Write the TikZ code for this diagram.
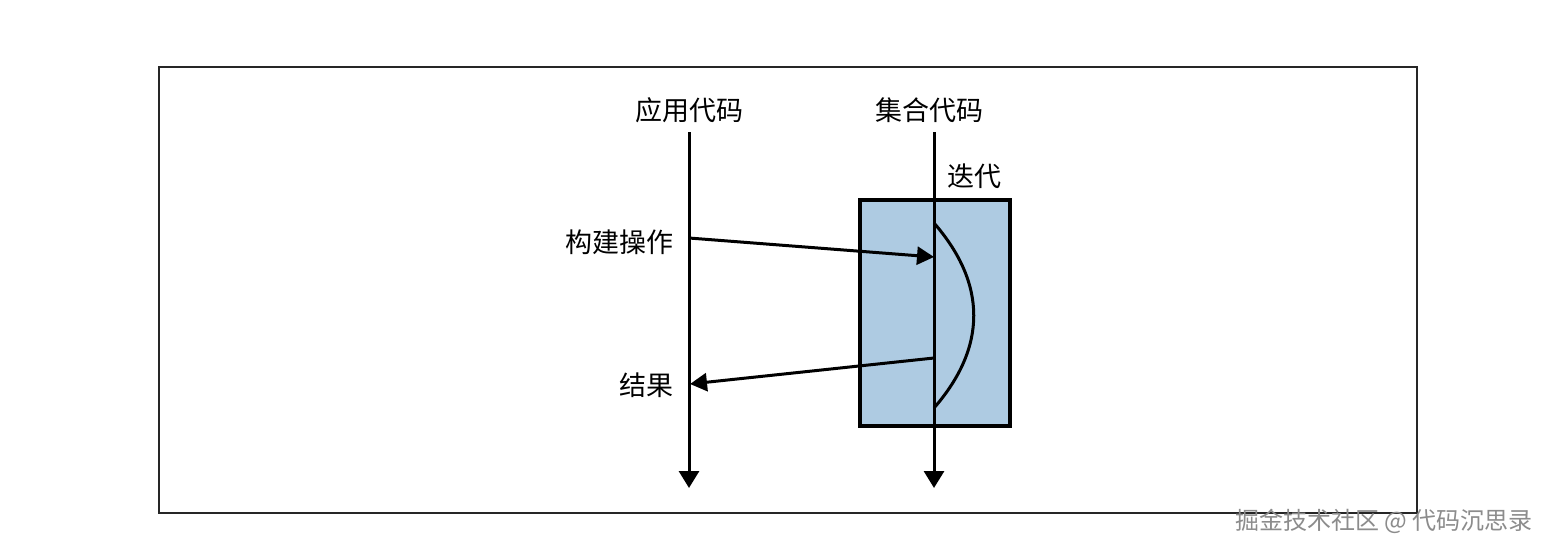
\documentclass[tikz,border=0pt]{standalone}
\usepackage{fontspec}
\newfontfamily\cjk{Noto Sans CJK SC}
\usetikzlibrary{arrows.meta}
\definecolor{boxblue}{HTML}{AECBE2}
\begin{document}
\begin{tikzpicture}[x=1pt,y=-1pt,
  lbl/.style={font=\cjk\fontsize{27}{27}\selectfont, inner sep=0pt},
  life/.style={line width=3pt, -{Triangle[length=17pt,width=20pt]}},
  msg/.style={line width=3pt, -{Triangle[length=17pt,width=18pt]}}]
\useasboundingbox (0,0) rectangle (1552,552);
\fill[white] (0,0) rectangle (1552,552);
% frame
\draw[line width=2pt, black!85] (159,67) rectangle (1417,513);
% iteration box
\node[draw, line width=3.5pt, fill=boxblue, minimum width=150pt, minimum height=226pt, inner sep=0pt] (box) at (935,313) {};
% labels
\node[lbl] (app) at (689,110) {应用代码};
\node[lbl] (coll) at (929,110) {集合代码};
\node[lbl] (iter) at (974,176) {迭代};
\node[lbl, anchor=east] (build) at (674,242) {构建操作};
\node[lbl, anchor=east] (res) at (674,385) {结果};
% lifelines
\coordinate (a0) at (689,132);
\coordinate (a1) at (689,488);
\coordinate (c0) at (934,132);
\coordinate (c1) at (934,488);
\draw[life] (a0) -- (a1);
\draw[life] (c0) -- (c1);
% arc
\coordinate (s0) at (934,223);
\coordinate (s1) at (934,408);
\draw[line width=3pt] (s0) .. controls (987,284) and (987,347) .. (s1);
% messages
\coordinate (m0) at (689,238);
\coordinate (m1) at (934,257);
\coordinate (r0) at (934,358);
\coordinate (r1) at (690,384);
\draw[msg] (m0) -- (m1);
\draw[msg] (r0) -- (r1);
% watermark
\node[font=\cjk\fontsize{24}{24}\selectfont, text=black!45, anchor=east, inner sep=0pt] (wm) at (1533,521) {掘金技术社区 @ 代码沉思录};
\end{tikzpicture}
\end{document}
